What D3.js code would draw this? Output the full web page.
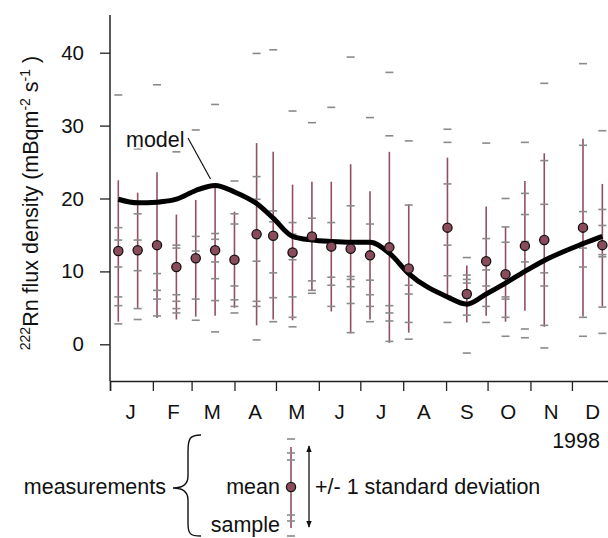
<!DOCTYPE html>
<html>
<head>
<meta charset="utf-8">
<script src="https://cdn.jsdelivr.net/npm/d3@7"></script>
<style>
  body { margin: 0; background: #fff; }
  svg { display: block; font-family: Arial, Helvetica, "Liberation Sans", sans-serif; }
</style>
</head>
<body>
<script>
// Sampling dates (roughly every two weeks through 1998)
const sampleDates = [
  '1998-01-07', '1998-01-21', '1998-02-04', '1998-02-18', '1998-03-04', '1998-03-18',
  '1998-04-01', '1998-04-17', '1998-04-29', '1998-05-13', '1998-05-27', '1998-06-10',
  '1998-06-24', '1998-07-08', '1998-07-22', '1998-08-05', '1998-09-02', '1998-09-16',
  '1998-09-30', '1998-10-14', '1998-10-28', '1998-11-11', '1998-12-09', '1998-12-23',
];

// Mean flux and +/- 1 standard deviation (mBq m-2 s-1)
const meanFlux = [12.8, 12.9, 13.6, 10.6, 11.8, 12.9, 11.6, 15.1, 14.9, 12.6, 14.8, 13.4,
  13.1, 12.2, 13.3, 10.4, 16.0, 6.9, 11.4, 9.6, 13.5, 14.3, 16.0, 13.6];
const sdFlux = [9.7, 7.9, 10.0, 7.2, 8.0, 9.0, 6.6, 12.5, 11.5, 9.3, 7.5, 8.9,
  11.6, 8.8, 13.1, 8.8, 9.6, 3.9, 7.5, 6.5, 8.9, 11.9, 12.2, 8.4];

// Modelled flux
const modelFlux = [19.9, 19.4, 19.5, 19.9, 21.1, 21.8, 20.9, 19.3, 17.3, 14.8, 14.3, 14.1,
  14.0, 14.0, 12.5, 9.7, 6.5, 5.5, 6.9, 8.4, 10.0, 11.5, 13.8, 14.8];

// Individual samples for each date
const sampleFlux = [
  [34.2, 16.0, 14.3, 10.6, 6.5, 5.3, 2.8],
  [26.8, 17.9, 14.3, 10.1, 4.9, 3.4],
  [35.6, 19.3, 9.7, 7.4, 6.2, 3.9],
  [26.4, 13.6, 13.2, 6.8, 5.9, 4.9, 4.3],
  [29.4, 14.8, 12.8, 6.2, 3.3],
  [32.9, 15.2, 14.4, 11.3, 9.0, 6.0, 1.7],
  [22.4, 17.9, 16.5, 8.0, 6.1, 5.2, 4.3],
  [39.9, 23.0, 19.9, 11.4, 5.9, 5.2, 0.6],
  [40.4, 18.3, 16.8, 9.8, 6.4, 3.1],
  [32.0, 16.7, 15.1, 11.6, 6.5, 3.7, 2.4],
  [30.4, 17.3, 8.7, 7.4, 7.0],
  [32.5, 16.7, 9.2, 8.1, 5.2],
  [39.4, 19.0, 9.3, 8.9, 7.9, 5.6, 1.6],
  [31.1, 16.5, 13.9, 8.8, 6.8, 5.2, 3.1],
  [37.3, 28.6, 5.3, 4.3, 3.2, 0.4],
  [27.9, 19.1, 8.1, 6.9, 3.0, 0.7],
  [29.5, 27.7, 22.0, 13.6, 9.4, 6.6, 3.0],
  [11.9, 9.5, 8.9, 8.4, 6.4, 4.0, -1.2],
  [27.6, 14.5, 10.2, 8.0, 5.2, 3.0],
  [20.0, 16.1, 14.0, 6.5, 6.2, 3.7, 1.1],
  [27.7, 20.7, 17.8, 14.1, 11.3, 2.1, 0.9],
  [35.8, 25.2, 19.2, 9.8, 8.0, 2.6, -0.5],
  [38.5, 27.3, 18.2, 13.2, 10.6, 3.7, 1.1],
  [29.3, 18.5, 16.3, 12.3, 12.0, 5.1, 1.5],
];

const monthLabels = ['J', 'F', 'M', 'A', 'M', 'J', 'J', 'A', 'S', 'O', 'N', 'D'];
const yTicks = [0, 10, 20, 30, 40];

// Layout
const svgWidth = 608;
const svgHeight = 538;
const plotLeft = 110;
const plotTop = 15;
const plotBottom = 381;
const textSize = 21.5;

const barColor = '#92505f';
const dotColor = '#8a4b5a';
const sampleColor = '#8a8a8a';

const parseDate = d3.timeParse('%Y-%m-%d');
const dates = sampleDates.map(parseDate);

const svg = d3.select('body')
  .append('svg')
  .attr('width', svgWidth)
  .attr('height', svgHeight);

// Scales
const x = d3.scaleTime()
  .domain([new Date(1998, 0, 1), new Date(1999, 0, 1)])
  .range([plotLeft, 614.8]);

const y = d3.scaleLinear()
  .domain([0, 40])
  .range([344.3, 52.7]);

// Y axis
const yAxis = svg.append('g')
  .attr('transform', `translate(${plotLeft},0)`)
  .call(d3.axisLeft(y).tickValues(yTicks).tickSize(10).tickPadding(16));
yAxis.select('.domain').remove();
yAxis.selectAll('line').attr('stroke', '#222').attr('stroke-width', 1.3);
yAxis.selectAll('text').attr('font-size', 20.5).attr('fill', '#111')
  .attr('font-family', 'Arial, Helvetica, "Liberation Sans", sans-serif');

svg.append('line')
  .attr('x1', plotLeft).attr('x2', plotLeft)
  .attr('y1', plotTop).attr('y2', plotBottom)
  .attr('stroke', '#222').attr('stroke-width', 1.5);

// X axis with month boundaries
const xAxis = svg.append('g')
  .attr('transform', `translate(0,${plotBottom})`)
  .call(d3.axisBottom(x).ticks(d3.timeMonth.every(1)).tickSize(10).tickFormat(''));
xAxis.select('.domain').attr('stroke', '#222').attr('stroke-width', 1.5);
xAxis.selectAll('line').attr('stroke', '#222').attr('stroke-width', 1.3);

// Month letters at mid-month
svg.append('g')
  .selectAll('text')
  .data(monthLabels)
  .enter()
  .append('text')
  .attr('x', (d, i) => x(new Date(1998, i, 16)))
  .attr('y', 419)
  .attr('text-anchor', 'middle')
  .attr('font-size', 20.5)
  .attr('fill', '#111')
  .text((d) => d);

svg.append('text')
  .attr('x', 600)
  .attr('y', 448)
  .attr('text-anchor', 'end')
  .attr('font-size', textSize)
  .attr('fill', '#111')
  .text('1998');

// Y axis title
const yTitle = svg.append('text')
  .attr('transform', 'translate(38,203) rotate(-90)')
  .attr('text-anchor', 'middle')
  .attr('font-size', textSize)
  .attr('fill', '#111');
yTitle.append('tspan').attr('font-size', 14).attr('dy', -8).text('222');
yTitle.append('tspan').attr('dy', 8).text('Rn flux density (mBqm');
yTitle.append('tspan').attr('font-size', 14).attr('dy', -8).text('-2');
yTitle.append('tspan').attr('dy', 8).text(' s');
yTitle.append('tspan').attr('font-size', 14).attr('dy', -8).text('-1');
yTitle.append('tspan').attr('dy', 8).text(' )');

// Data table built from the arrays
const rows = dates.map((d, i) => ({
  date: d,
  mean: meanFlux[i],
  sd: sdFlux[i],
  model: modelFlux[i],
  samples: sampleFlux[i],
}));

// Error bars (+/- 1 SD)
svg.append('g')
  .selectAll('line')
  .data(rows)
  .enter()
  .append('line')
  .attr('x1', (d) => x(d.date))
  .attr('x2', (d) => x(d.date))
  .attr('y1', (d) => y(d.mean + d.sd))
  .attr('y2', (d) => y(d.mean - d.sd))
  .attr('stroke', barColor)
  .attr('stroke-width', 1.6);

// Individual samples as short dashes
const sampleRows = rows.flatMap((d) => d.samples.map((v) => ({ date: d.date, value: v })));
svg.append('g')
  .selectAll('line')
  .data(sampleRows)
  .enter()
  .append('line')
  .attr('x1', (d) => x(d.date) - 4)
  .attr('x2', (d) => x(d.date) + 4)
  .attr('y1', (d) => y(d.value))
  .attr('y2', (d) => y(d.value))
  .attr('stroke', sampleColor)
  .attr('stroke-width', 1.6);

// Model line
const modelLine = d3.line()
  .x((d) => x(d.date))
  .y((d) => y(d.model))
  .curve(d3.curveMonotoneX);

svg.append('path')
  .datum(rows)
  .attr('d', modelLine)
  .attr('fill', 'none')
  .attr('stroke', '#000')
  .attr('stroke-width', 5)
  .attr('stroke-linejoin', 'round');

// Mean points
svg.append('g')
  .selectAll('circle')
  .data(rows)
  .enter()
  .append('circle')
  .attr('cx', (d) => x(d.date))
  .attr('cy', (d) => y(d.mean))
  .attr('r', 4.6)
  .attr('fill', dotColor)
  .attr('stroke', '#111')
  .attr('stroke-width', 1.3);

// "model" callout
svg.append('text')
  .attr('x', 126)
  .attr('y', 147)
  .attr('font-size', textSize)
  .attr('fill', '#111')
  .attr('stroke', '#fff')
  .attr('stroke-width', 3)
  .attr('paint-order', 'stroke')
  .text('model');
svg.append('line')
  .attr('x1', 188).attr('y1', 138)
  .attr('x2', 210.5).attr('y2', 179)
  .attr('stroke', '#111')
  .attr('stroke-width', 1.2);

// Legend
const legend = svg.append('g');

legend.append('text')
  .attr('x', 166).attr('y', 494)
  .attr('text-anchor', 'end')
  .attr('font-size', textSize)
  .attr('fill', '#111')
  .text('measurements');

legend.append('path')
  .attr('d', 'M201,435 C190,435 188,438 188,452 L188,476 C188,485 182,488 173,488 C182,488 188,491 188,500 L188,523 C188,534 190,536 201,536')
  .attr('fill', 'none')
  .attr('stroke', '#111')
  .attr('stroke-width', 1.4);

legend.append('text')
  .attr('x', 280).attr('y', 494)
  .attr('text-anchor', 'end')
  .attr('font-size', textSize)
  .attr('fill', '#111')
  .text('mean');

legend.append('text')
  .attr('x', 280).attr('y', 532)
  .attr('text-anchor', 'end')
  .attr('font-size', textSize)
  .attr('fill', '#111')
  .text('sample');

const legendX = 291;
legend.append('line')
  .attr('x1', legendX).attr('x2', legendX)
  .attr('y1', 447).attr('y2', 528)
  .attr('stroke', barColor).attr('stroke-width', 1.6);

legend.selectAll('.legend-sample')
  .data([439, 453, 460, 515, 521, 536])
  .enter()
  .append('line')
  .attr('class', 'legend-sample')
  .attr('x1', legendX - 4).attr('x2', legendX + 4)
  .attr('y1', (d) => d).attr('y2', (d) => d)
  .attr('stroke', sampleColor).attr('stroke-width', 1.6);

legend.append('circle')
  .attr('cx', legendX).attr('cy', 487)
  .attr('r', 4.6)
  .attr('fill', dotColor)
  .attr('stroke', '#111')
  .attr('stroke-width', 1.3);

// Double-headed arrow for +/- 1 SD
svg.append('defs')
  .append('marker')
  .attr('id', 'arrowhead')
  .attr('viewBox', '0 0 10 10')
  .attr('refX', 9).attr('refY', 5)
  .attr('markerWidth', 7).attr('markerHeight', 8)
  .attr('markerUnits', 'userSpaceOnUse')
  .attr('orient', 'auto-start-reverse')
  .append('path')
  .attr('d', 'M0,1 L10,5 L0,9 Z')
  .attr('fill', '#111');

legend.append('line')
  .attr('x1', 309).attr('x2', 309)
  .attr('y1', 446).attr('y2', 527)
  .attr('stroke', '#111').attr('stroke-width', 1.3)
  .attr('marker-start', 'url(#arrowhead)')
  .attr('marker-end', 'url(#arrowhead)');

legend.append('text')
  .attr('x', 315).attr('y', 494)
  .attr('font-size', textSize)
  .attr('fill', '#111')
  .text('+/- 1 standard deviation');
</script>
</body>
</html>
